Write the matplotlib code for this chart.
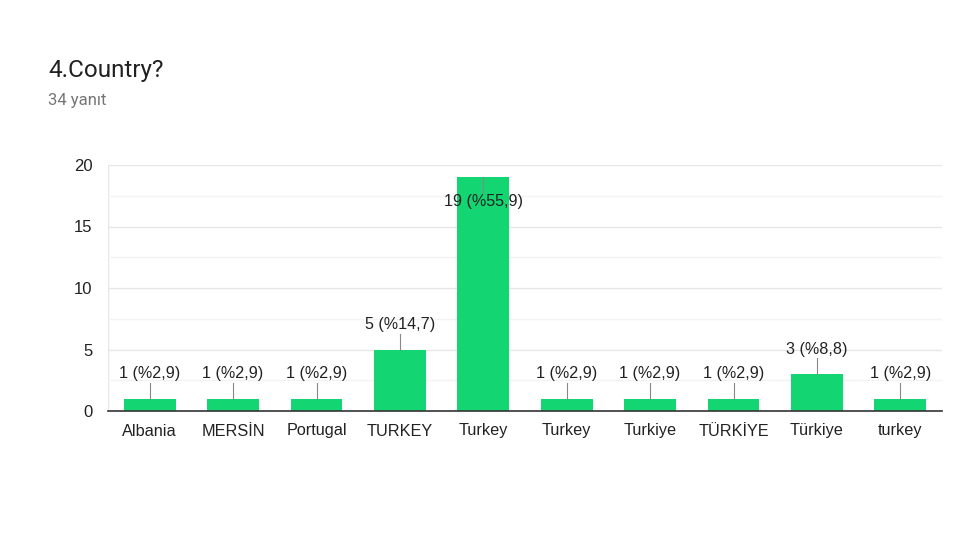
import matplotlib
matplotlib.use("Agg")
import matplotlib.pyplot as plt
from matplotlib.ticker import MultipleLocator

categories = ["Albania", "MERSİN", "Portugal", "TURKEY", "Turkey", "Turkey",
              "Turkiye", "TÜRKİYE", "Türkiye", "turkey"]
counts = [1, 1, 1, 5, 19, 1, 1, 1, 3, 1]
labels = ["1 (%2,9)", "1 (%2,9)", "1 (%2,9)", "5 (%14,7)", "19 (%55,9)",
          "1 (%2,9)", "1 (%2,9)", "1 (%2,9)", "3 (%8,8)", "1 (%2,9)"]
yticks = [0, 5, 10, 15, 20]
title = "4.Country?"
subtitle = "34 yanıt"

bar_color = "#13d672"
font = ["Liberation Sans", "DejaVu Sans"]

fig = plt.figure(figsize=(9.6, 5.4), dpi=100)
fig.patch.set_facecolor("white")
fig.text(48 / 960, 1 - 71 / 540, title, fontsize=17.5, family=["Roboto", "DejaVu Sans"],
         color="#212121", va="center", ha="left")
fig.text(48 / 960, 1 - 101 / 540, subtitle, fontsize=12, family=["Roboto", "DejaVu Sans"],
         color="#757575", va="center", ha="left")

ax = fig.add_axes([108 / 960, 1 - 411 / 540, (942 - 108) / 960, (411 - 165) / 540])
x = list(range(len(categories)))
ax.bar(x, counts, width=0.62, color=bar_color, zorder=3)
ax.set_xlim(-0.5, len(categories) - 0.5)
ax.set_ylim(0, 20)
ax.set_yticks(yticks)
ax.yaxis.set_minor_locator(MultipleLocator(2.5))
ax.grid(axis="y", which="major", color="#e6e6e6", linewidth=1, zorder=0)
ax.grid(axis="y", which="minor", color="#f3f3f3", linewidth=1, zorder=0)
ax.set_xticks(x)
ax.set_xticklabels(categories, family=font, fontsize=11.7, color="#222222")
for t in ax.get_yticklabels():
    t.set_family(font)
    t.set_fontsize(12)
    t.set_color("#222222")
ax.tick_params(axis="both", which="both", length=0)
ax.tick_params(axis="x", pad=9)
ax.tick_params(axis="y", pad=11)
for s in ["top", "right", "left"]:
    ax.spines[s].set_visible(False)
ax.spines["bottom"].set_color("#333333")
ax.spines["bottom"].set_linewidth(1.2)
ax.spines["bottom"].set_zorder(4)
ax.axvline(-0.5, color="#e6e6e6", lw=1, zorder=0)

ppu = (411 - 165) / 20.0
for xi, v, lab in zip(x, counts, labels):
    top = v
    if v + 27 / ppu > 20:
        ax.plot([xi, xi], [top, top - 16 / ppu], color="#888888", lw=0.8, zorder=4)
        ax.text(xi, top - 24 / ppu, lab, ha="center", va="center", fontsize=11.6,
                family=font, color="#222222", zorder=5)
    else:
        ax.plot([xi, xi], [top, top + 16 / ppu], color="#888888", lw=0.8, zorder=4)
        ax.text(xi, top + 25 / ppu, lab, ha="center", va="center", fontsize=11.6,
                family=font, color="#222222", zorder=5)

fig.savefig("out.png", dpi=100, facecolor="white")
